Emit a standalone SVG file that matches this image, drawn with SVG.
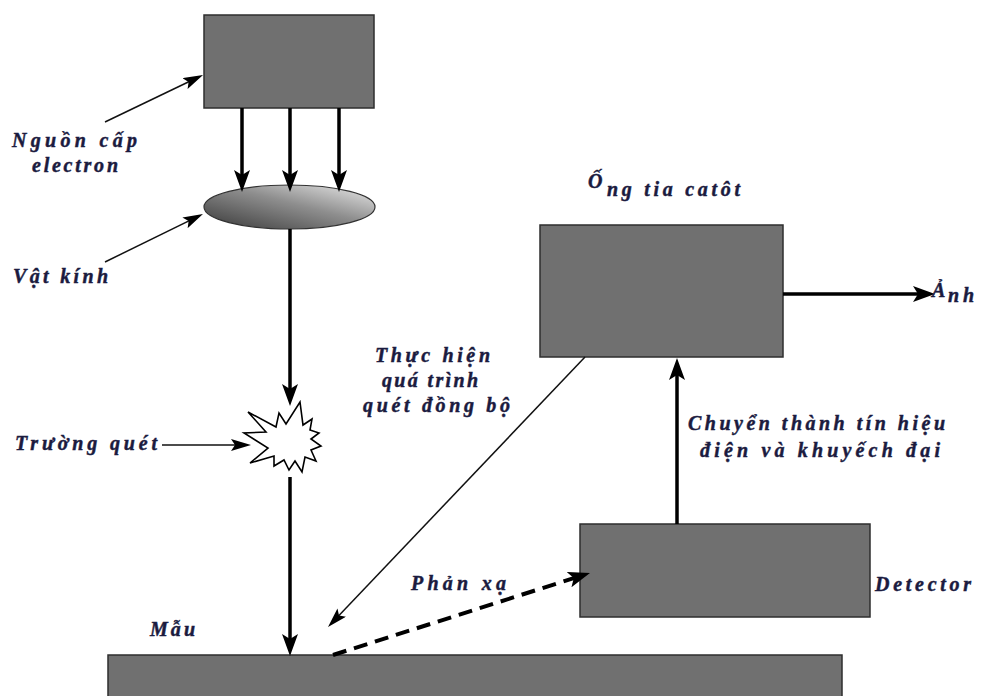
<svg xmlns="http://www.w3.org/2000/svg" width="981" height="696" viewBox="0 0 981 696">
  <style>
    .box { fill: #707070; stroke: #2e2e2e; stroke-width: 1.5; }
    .lbl { font-family: "Liberation Serif", "Times New Roman", serif; font-style: italic; font-weight: bold; font-size: 20px; fill: #1b1b3f; stroke: #1b1b3f; stroke-width: 0.45; }
    .thick { stroke: #000; stroke-width: 3.5; fill: none; marker-end: url(#headBig); }
    .dash { stroke: #000; stroke-width: 4; fill: none; stroke-dasharray: 14 8; marker-end: url(#headBig); }
    .thin { stroke: #111; stroke-width: 1.5; fill: none; marker-end: url(#headSmall); }
  </style>
  <defs>
    <marker id="headBig" viewBox="0 0 22 16" refX="11" refY="8" markerWidth="22" markerHeight="16" markerUnits="userSpaceOnUse" orient="auto">
      <path d="M0,0 L22,8 L0,16 L5,8 Z" fill="#000"/>
    </marker>
    <marker id="headSmall" viewBox="0 0 20 12" refX="10" refY="6" markerWidth="20" markerHeight="12" markerUnits="userSpaceOnUse" orient="auto">
      <path d="M0,0 L20,6 L0,12 L4,6 Z" fill="#000"/>
    </marker>
    <linearGradient id="lensFill" x1="0" y1="1" x2="1" y2="0">
      <stop offset="0" stop-color="#383838"/>
      <stop offset="0.55" stop-color="#8e8e8e"/>
      <stop offset="1" stop-color="#ececec"/>
    </linearGradient>
  </defs>

  <!-- electron source -->
  <g id="source">
    <rect class="box" x="204" y="15" width="170" height="93"/>
  </g>

  <!-- objective lens -->
  <g id="lens">
    <ellipse cx="289.5" cy="207" rx="85.5" ry="22" fill="url(#lensFill)" stroke="#333" stroke-width="1.2"/>
  </g>

  <!-- scanning field burst -->
  <g id="scan-field">
    <polygon points="300,402 303,425 312,419 310,430 319,433 311,439 321,446 311,450 316,461 305,457 302,472 295,461 289,470 284,460 274,466 274,456 250,463 268,448 244,433 266,432 248,412 276,427 279,413 286,424" fill="#fff" stroke="#000" stroke-width="1.6" stroke-linejoin="miter"/>
  </g>

  <!-- sample -->
  <g id="sample">
    <rect class="box" x="108" y="655" width="734" height="50"/>
  </g>

  <!-- detector -->
  <g id="detector">
    <rect class="box" x="580" y="524" width="290" height="93"/>
  </g>

  <!-- cathode ray tube -->
  <g id="crt">
    <rect class="box" x="540" y="225" width="243" height="132"/>
  </g>

  <g id="connectors">
    <line class="thick" x1="242" y1="108" x2="242" y2="181"/>
    <line class="thick" x1="290" y1="108" x2="290" y2="181"/>
    <line class="thick" x1="339" y1="108" x2="339" y2="181"/>
    <line class="thick" x1="290" y1="229" x2="290" y2="395"/>
    <line class="thick" x1="290" y1="477" x2="290" y2="645"/>
    <line class="dash" x1="333" y1="655" x2="579.5" y2="576.3"/>
    <line class="thick" x1="677" y1="524" x2="677" y2="369"/>
    <line class="thick" x1="783" y1="294" x2="924" y2="294"/>
    <line class="thin" x1="585" y1="357" x2="334.9" y2="619.8"/>
    <line class="thin" x1="105" y1="122" x2="194" y2="79.3"/>
    <line class="thin" x1="105" y1="262" x2="194" y2="218.4"/>
    <line class="thin" x1="162" y1="445" x2="241" y2="445"/>
  </g>

  <g id="labels">
    <text class="lbl" x="12" y="147" textLength="125" lengthAdjust="spacing">Nguồn cấp</text>
    <text class="lbl" x="32" y="172" textLength="86" lengthAdjust="spacing">electron</text>
    <text class="lbl" x="13" y="283" textLength="95" lengthAdjust="spacing">Vật kính</text>
    <text class="lbl" x="15" y="450" textLength="142" lengthAdjust="spacing">Trường quét</text>
    <text class="lbl" x="375" y="362" textLength="115" lengthAdjust="spacing">Thực hiện</text>
    <text class="lbl" x="382" y="387" textLength="96" lengthAdjust="spacing">quá trình</text>
    <text class="lbl" x="363" y="412" textLength="147" lengthAdjust="spacing">quét đồng bộ</text>
    <text class="lbl" x="688" y="430" textLength="257" lengthAdjust="spacing">Chuyển thành tín hiệu</text>
    <text class="lbl" x="700" y="457" textLength="240" lengthAdjust="spacing">điện và khuyếch đại</text>
    <text class="lbl" x="411" y="590" textLength="95" lengthAdjust="spacing">Phản xạ</text>
    <text class="lbl" x="875" y="591" textLength="96" lengthAdjust="spacing">Detector</text>
    <text class="lbl" x="150" y="636" textLength="45" lengthAdjust="spacing">Mẫu</text>
    <text class="lbl" x="588" y="188">Ố</text>
    <text class="lbl" x="607" y="196" textLength="133" lengthAdjust="spacing">ng tia catôt</text>
    <text class="lbl" x="932" y="297">Ả</text>
    <text class="lbl" x="948" y="302" textLength="26" lengthAdjust="spacing">nh</text>
  </g>
</svg>
